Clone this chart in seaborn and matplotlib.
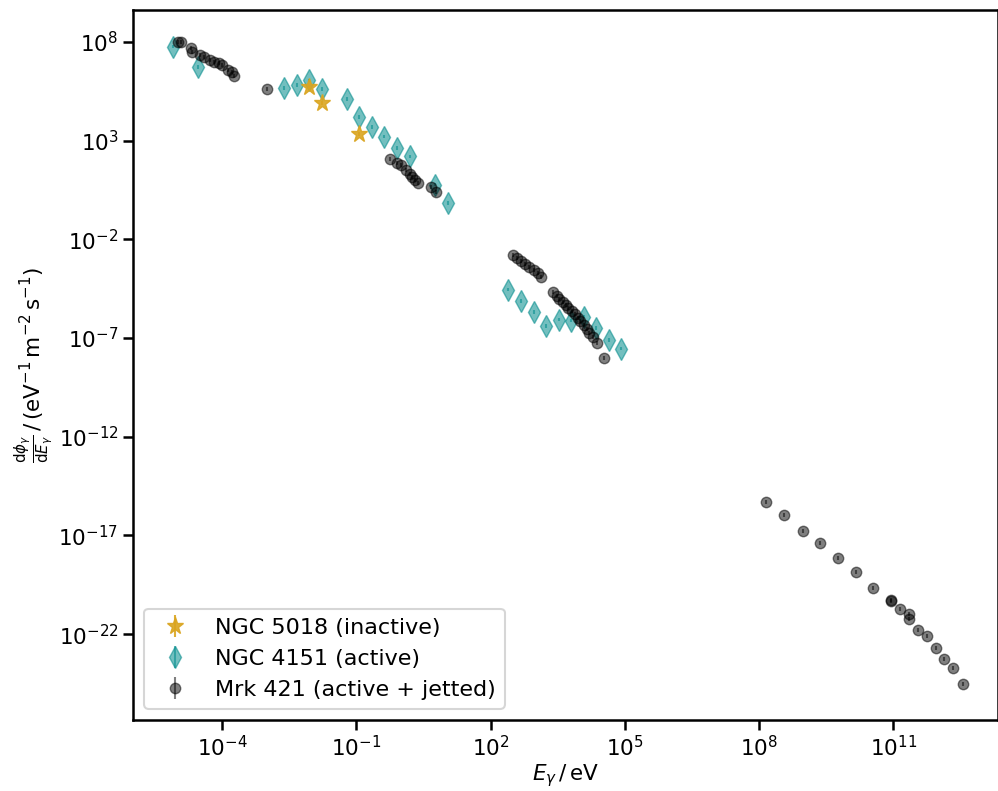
import numpy as np
import matplotlib
matplotlib.use("Agg")
import matplotlib.pyplot as plt
import seaborn as sns

# ---- data (log10 of energy in eV, log10 of differential flux) ----
ngc5018_logE = [-2.05, -1.76, -0.93]
ngc5018_logF = [5.72, 4.91, 3.34]

ngc4151_logE = [-5.09, -4.53, -2.61, -2.32, -2.05, -1.76, -1.20, -0.93, -0.64, -0.37,
                -0.08, 0.19, 0.75, 1.04,
                2.40, 2.67, 2.96, 3.23, 3.52, 3.79, 4.08, 4.35, 4.64, 4.91]
ngc4151_logF = [7.75, 6.73, 5.67, 5.82, 6.07, 5.62, 5.11, 4.20, 3.69, 3.19,
                2.63, 2.22, 0.76, -0.16,
                -4.56, -5.12, -5.68, -6.39, -6.08, -6.13, -5.93, -6.49, -7.10, -7.55]

mrk421_logE = [-4.98, -4.91, -4.69, -4.67, -4.49, -4.40, -4.26, -4.17, -4.06, -4.00,
               -3.86, -3.77, -3.73, -2.99,
               -0.24, -0.08, 0.01, 0.10, 0.19, 0.25, 0.32, 0.39, 0.68, 0.79,
               2.51, 2.60, 2.69, 2.78, 2.87, 2.96, 3.05, 3.12,
               3.39, 3.48, 3.54, 3.61, 3.68, 3.74, 3.81, 3.88, 3.95, 4.01,
               4.08, 4.15, 4.21, 4.28, 4.37, 4.53,
               8.15, 8.55, 8.98, 9.36, 9.76, 10.17, 10.55, 10.95, 10.95, 11.15,
               11.35, 11.35, 11.55, 11.75, 11.96, 12.13, 12.34, 12.56]
mrk421_logF = [8.00, 8.00, 7.70, 7.49, 7.34, 7.24, 7.09, 6.99, 6.94, 6.83,
               6.58, 6.48, 6.28, 5.62,
               2.07, 1.87, 1.77, 1.52, 1.31, 1.16, 1.01, 0.86, 0.65, 0.40,
               -2.79, -2.94, -3.09, -3.25, -3.40, -3.55, -3.70, -3.90,
               -4.66, -4.87, -5.02, -5.17, -5.32, -5.48, -5.63, -5.78, -5.98, -6.13,
               -6.34, -6.54, -6.74, -6.94, -7.25, -8.01,
               -15.30, -15.96, -16.77, -17.38, -18.14, -18.85, -19.66, -20.32, -20.28, -20.72,
               -20.98, -21.23, -21.79, -22.09, -22.70, -23.26, -23.71, -24.52]

labels = ["NGC 5018 (inactive)", "NGC 4151 (active)", "Mrk 421 (active + jetted)"]
xtick_exp = [-4, -1, 2, 5, 8, 11]
ytick_exp = [8, 3, -2, -7, -12, -17, -22]

sns.set_theme(style="ticks", context="talk")
plt.rcParams['font.family'] = ['DejaVu Sans']
plt.rcParams['mathtext.fontset'] = 'dejavusans'
plt.rcParams.update({'text.color': 'black', 'axes.labelcolor': 'black',
                     'xtick.color': 'black', 'ytick.color': 'black',
                     'axes.edgecolor': 'black'})

fig = plt.figure(figsize=(9.98, 7.91), dpi=100)
ax = fig.add_axes([133/998, 71/791, 865/998, 710/791])


def arr(v):
    return 10.0 ** np.asarray(v)


def err(logF, frac):
    f = arr(logF)
    return [f * frac / (1 + frac), f * frac]


h3 = ax.errorbar(arr(mrk421_logE), arr(mrk421_logF), yerr=err(mrk421_logF, 0.25),
                 fmt='o', color='black', alpha=0.5, markersize=7.5,
                 elinewidth=1.5, capsize=0, label=labels[2], zorder=3)
h2 = ax.errorbar(arr(ngc4151_logE), arr(ngc4151_logF), yerr=err(ngc4151_logF, 0.2),
                 fmt='d', color='darkcyan', alpha=0.55, markersize=11,
                 elinewidth=1.5, capsize=0, label=labels[1], zorder=2)
h1 = ax.errorbar(arr(ngc5018_logE), arr(ngc5018_logF), yerr=err(ngc5018_logF, 0.2),
                 fmt='*', color='goldenrod', alpha=0.9, markersize=12.5,
                 elinewidth=1.5, capsize=0, label=labels[0], zorder=4)

ax.set_xscale('log')
ax.set_yscale('log')
ax.set_xlim(10 ** -5.99, 10 ** 13.34)
ax.set_ylim(10 ** -26.35, 10 ** 9.62)
ax.set_xticks([10.0 ** e for e in xtick_exp])
ax.set_yticks([10.0 ** e for e in ytick_exp])
ax.minorticks_off()
ax.tick_params(axis='both', which='major', labelsize=15.5, length=7, width=1.8,
               colors='black')
for s in ax.spines.values():
    s.set_linewidth(1.8)
    s.set_color('black')

ax.set_xlabel(r'$E_\gamma\,/\,\mathrm{eV}$', fontsize=15.5, labelpad=2, color='black')
ax.set_ylabel(r'$\frac{\mathrm{d}\phi_\gamma}{\mathrm{d}E_\gamma}\,/\,(\mathrm{eV}^{-1}\,\mathrm{m}^{-2}\,\mathrm{s}^{-1})$',
              fontsize=15.5, labelpad=2, color='black')

leg = ax.legend(handles=[h1, h2, h3], labels=labels, loc='lower left', fontsize=16,
                frameon=True, handletextpad=0.8, borderaxespad=0.5)
for t in leg.get_texts():
    t.set_color('black')

fig.savefig('out.png', dpi=100)
